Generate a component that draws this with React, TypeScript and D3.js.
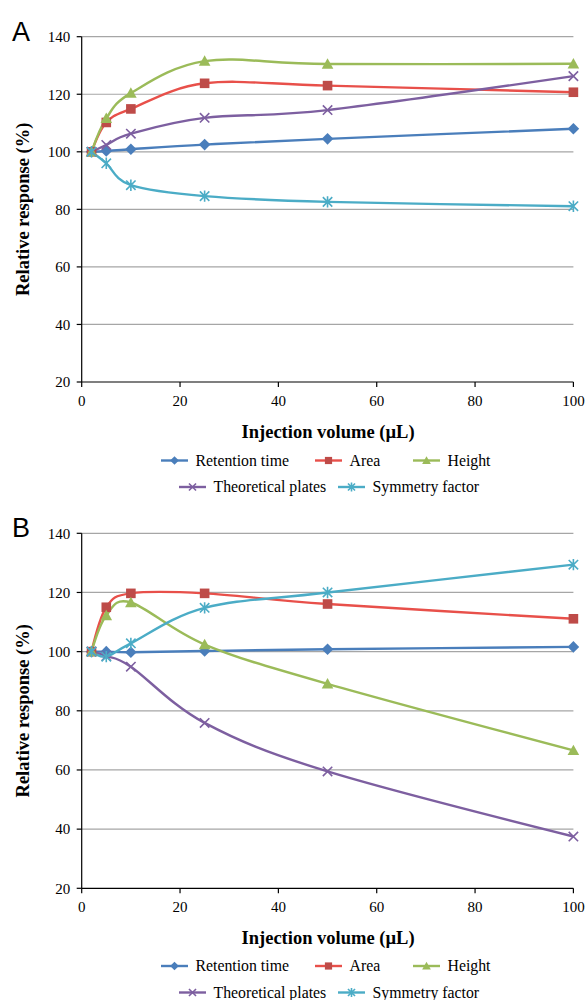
import React from 'react';
import * as d3 from 'd3';

// injection volumes (µL)
const volumes = [2, 5, 10, 25, 50, 100];

// panel A (relative response, %)
const retentionA = [100, 100.3, 100.9, 102.5, 104.5, 108.0];
const areaA = [100, 110.2, 114.9, 123.8, 123.0, 120.7];
const heightA = [100, 111.6, 120.4, 131.5, 130.5, 130.6];
const platesA = [100, 102.4, 106.3, 111.8, 114.5, 126.3];
const symmetryA = [100, 96.0, 88.4, 84.6, 82.6, 81.1];

// panel B (relative response, %)
const retentionB = [100, 100, 99.8, 100.2, 100.8, 101.6];
const areaB = [100, 115.0, 119.7, 119.7, 116.1, 111.1];
const heightB = [100, 112.2, 116.6, 102.4, 89.1, 66.6];
const platesB = [100, 98.5, 94.9, 75.9, 59.5, 37.5];
const symmetryB = [100, 98.3, 102.8, 114.8, 120.0, 129.4];

const yTicks = [20, 40, 60, 80, 100, 120, 140];
const xTicks = [0, 20, 40, 60, 80, 100];

const seriesNames = ['Retention time', 'Area', 'Height', 'Theoretical plates', 'Symmetry factor'];
const lineColors = ['#4A7EBB', '#E8504A', '#9BBB59', '#7D5FA0', '#4BACC6'];
const markerColors = ['#4A7EBB', '#BE4B48', '#9BBB59', '#7D5FA0', '#4BACC6'];
const markerKinds = ['diamond', 'square', 'triangle', 'x', 'star'];

const SERIF = '"Liberation Serif", "Times New Roman", serif';

const Marker = ({ kind, x, y, color, s = 1 }) => {
  if (kind === 'diamond') {
    const r = 5.8 * s;
    return <path d={`M${x},${y - r}L${x + r},${y}L${x},${y + r}L${x - r},${y}Z`} fill={color} />;
  }
  if (kind === 'square') {
    const r = 4.8 * s;
    return <rect x={x - r} y={y - r} width={2 * r} height={2 * r} fill={color} />;
  }
  if (kind === 'triangle') {
    const r = 5.8 * s;
    return <path d={`M${x},${y - r}L${x + r},${y + r * 0.8}L${x - r},${y + r * 0.8}Z`} fill={color} />;
  }
  if (kind === 'x') {
    const r = 4.7 * s;
    return (
      <path d={`M${x - r},${y - r}L${x + r},${y + r}M${x - r},${y + r}L${x + r},${y - r}`}
        stroke={color} strokeWidth={1.6} fill="none" />
    );
  }
  const r = 4.7 * s;
  return (
    <path d={`M${x - r},${y - r}L${x + r},${y + r}M${x - r},${y + r}L${x + r},${y - r}M${x},${y - r - 1}L${x},${y + r + 1}`}
      stroke={color} strokeWidth={1.6} fill="none" />
  );
};

const Panel = ({ top, bottom, label, series, legendY }) => {
  const left = 81.7;
  const right = 573.4;
  const x = d3.scaleLinear().domain([0, 100]).range([left, right]);
  const y = d3.scaleLinear().domain([20, 140]).range([bottom, top]);
  const line = d3.line<number>()
    .x((_, i) => x(volumes[i]))
    .y(d => y(d))
    .curve(d3.curveCardinal.tension(0));

  const legendRows = [
    [{ i: 0, lx: 161 }, { i: 1, lx: 315 }, { i: 2, lx: 413 }],
    [{ i: 3, lx: 179 }, { i: 4, lx: 338 }],
  ];

  return (
    <g>
      <text x={12} y={top + 4} fontFamily='"Liberation Sans", Arial, sans-serif' fontSize={27}>{label}</text>
      {yTicks.filter(t => t > 20).map(t => (
        <line key={t} x1={left} x2={right} y1={y(t)} y2={y(t)} stroke="#A6A6A6" strokeWidth={1.2} />
      ))}
      <line x1={left} x2={left} y1={y(140)} y2={y(20)} stroke="#000" strokeWidth={1.2} />
      <line x1={left} x2={right} y1={y(20)} y2={y(20)} stroke="#000" strokeWidth={1.2} />
      {yTicks.map(t => (
        <g key={t}>
          <line x1={left - 5} x2={left} y1={y(t)} y2={y(t)} stroke="#000" strokeWidth={1.2} />
          <text x={left - 11.5} y={y(t)} dy="0.35em" textAnchor="end" fontFamily={SERIF} fontSize={15}>{t}</text>
        </g>
      ))}
      {xTicks.map(t => (
        <g key={t}>
          <line x1={x(t)} x2={x(t)} y1={y(20)} y2={y(20) + 5} stroke="#000" strokeWidth={1.2} />
          <text x={x(t)} y={y(20) + 23.5} textAnchor="middle" fontFamily={SERIF} fontSize={15}>{t}</text>
        </g>
      ))}
      <text transform={`translate(28.5,${(top + bottom) / 2}) rotate(-90)`} textAnchor="middle"
        fontFamily={SERIF} fontSize={18.5} fontWeight="bold">Relative response (%)</text>
      <text x={(left + right) / 2 + 0.5} y={y(20) + 56} textAnchor="middle"
        fontFamily={SERIF} fontSize={18.5} fontWeight="bold">Injection volume (µL)</text>

      {series.map((vals, si) => (
        <path key={si} d={line(vals) || ''} fill="none" stroke={lineColors[si]} strokeWidth={2.4} />
      ))}
      {series.map((vals, si) => (
        <g key={si}>
          {vals.map((v, i) => (
            <Marker key={i} kind={markerKinds[si]} x={x(volumes[i])} y={y(v)} color={markerColors[si]} />
          ))}
        </g>
      ))}

      {legendRows.map((row, ri) => row.map(({ i, lx }) => {
        const ly = legendY + ri * 26.5;
        return (
          <g key={i}>
            <line x1={lx} x2={lx + 27} y1={ly} y2={ly} stroke={lineColors[i]} strokeWidth={2.4} />
            <Marker kind={markerKinds[i]} x={lx + 13.5} y={ly} color={markerColors[i]} s={0.75} />
            <text x={lx + 34.5} y={ly} dy="0.33em" fontFamily={SERIF} fontSize={15.8}>{seriesNames[i]}</text>
          </g>
        );
      }))}
    </g>
  );
};

export default function App() {
  return (
    <div style={{ position: 'absolute', left: 0, top: 0 }}>
      <svg width={586} height={1000} style={{ display: 'block', background: '#fff' }}>
        <Panel top={36.7} bottom={382} label="A" legendY={460.5}
          series={[retentionA, areaA, heightA, platesA, symmetryA]} />
        <Panel top={533.3} bottom={888.3} label="B" legendY={966}
          series={[retentionB, areaB, heightB, platesB, symmetryB]} />
      </svg>
    </div>
  );
}
